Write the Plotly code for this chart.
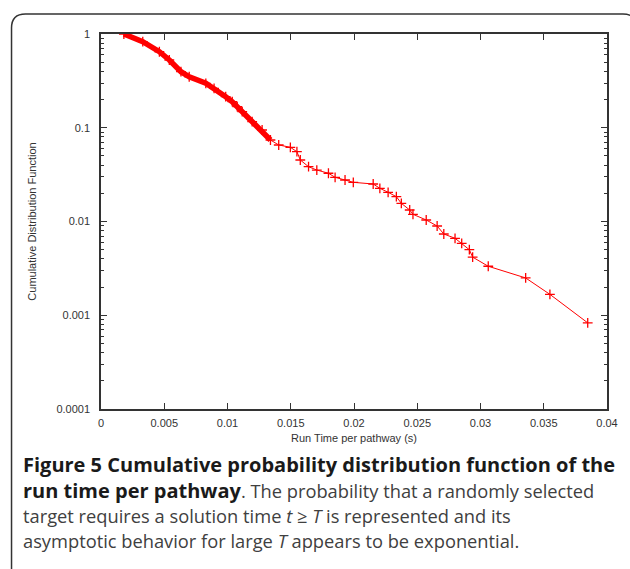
import plotly.graph_objects as go

# ---- data ----
run_time = [0.001808, 0.003302, 0.004615, 0.005401, 0.006321, 0.006973, 0.008286,
            0.008939, 0.009858, 0.010377, 0.010770, 0.011164, 0.011950, 0.012736,
            0.013396, 0.014049, 0.014969, 0.015487, 0.015755, 0.016407, 0.017060,
            0.017980, 0.018506, 0.019292, 0.019945, 0.021517, 0.022044, 0.022697,
            0.023349, 0.023742, 0.024403, 0.024662, 0.025708, 0.026572, 0.027099,
            0.027987, 0.028514, 0.029119, 0.029379, 0.030613, 0.033569, 0.035487,
            0.038475]
cdf = [1.0, 0.828, 0.647, 0.528, 0.396, 0.350, 0.298,
       0.2635, 0.2144, 0.1896, 0.1677, 0.1483, 0.1160, 0.0946,
       0.0740, 0.0655, 0.0619, 0.0555, 0.0453, 0.0384, 0.0354,
       0.0327, 0.0296, 0.0277, 0.02618, 0.02512, 0.02259, 0.02049,
       0.01839, 0.01563, 0.01327, 0.01193, 0.01038, 0.00895, 0.00736,
       0.00662, 0.00583, 0.00500, 0.00417, 0.00333, 0.00250, 0.00167,
       0.00083]

x_ticks = [0, 0.005, 0.01, 0.015, 0.02, 0.025, 0.03, 0.035, 0.04]
x_tick_labels = ["0", "0.005", "0.01", "0.015", "0.02", "0.025", "0.03", "0.035", "0.04"]
y_ticks = [1, 0.1, 0.01, 0.001, 0.0001]
y_tick_labels = ["1", "0.1", "0.01", "0.001", "0.0001"]

x_title = "Run Time per pathway (s)"
y_title = "Cumulative Distribution Function"
B1 = '<span style="font-size:20px;fill:#1a1a1a"><b>'
B2 = '</b></span>'
caption_lines = [
    B1 + "Figure 5 Cumulative probability distribution function of the" + B2,
    B1 + "run time per pathway" + B2 + ". The probability that a randomly selected",
    "target requires a solution time <i>t</i> \u2265 <i>T</i> is represented and its",
    "asymptotic behavior for large <i>T</i> appears to be exponential.",
]

# ---- layout geometry (pixels) ----
W, H = 630, 569
L, R, T, B = 101, 610, 34, 409


def px(xp):
    return (xp - L) / (R - L)


def py(yp):
    return (B - yp) / (B - T)


RED = "#ff0000"
fig = go.Figure()

dense_n = 15
fig.add_trace(go.Scatter(
    x=run_time[:dense_n], y=cdf[:dense_n], mode="lines",
    line=dict(color=RED, width=5.5), hoverinfo="skip", showlegend=False))
fig.add_trace(go.Scatter(
    x=run_time, y=cdf, mode="lines+markers",
    line=dict(color=RED, width=1),
    marker=dict(symbol="cross-thin", size=7, line=dict(color=RED, width=1.3)),
    showlegend=False))

minor_vals = [m * 10 ** e for e in range(-4, 0) for m in range(2, 10)]

axis_common = dict(showline=True, linecolor="#333333", linewidth=1.5, mirror="ticks",
                   ticks="inside", ticklen=6, tickwidth=1, tickcolor="#333333",
                   showgrid=False, zeroline=False,
                   tickfont=dict(family="Liberation Sans, Arial", size=11, color="#333333"),
                   title_font=dict(family="Liberation Sans, Arial", size=11, color="#333333"))

fig.update_xaxes(range=[0, 0.04], tickvals=x_ticks, ticktext=x_tick_labels,
                 title_text=x_title, title_standoff=6, ticklabelstandoff=3, **axis_common)
fig.update_yaxes(type="log", range=[-4, 0], tickvals=y_ticks, ticktext=y_tick_labels,
                 title_text=y_title, title_standoff=18, ticklabelstandoff=7,
                 minor=dict(tickvals=minor_vals, ticks="inside", ticklen=3,
                            tickcolor="#333333", showgrid=False),
                 **axis_common)

# rounded frame around figure
fx0, fy0, fy1, rad = 11, 14, 580, 14
fx1 = 640
path = (f"M {px(fx0)},{py(fy1)} L {px(fx0)},{py(fy0 + rad)} "
        f"Q {px(fx0)},{py(fy0)} {px(fx0 + rad)},{py(fy0)} "
        f"L {px(fx1 - rad)},{py(fy0)} Q {px(fx1)},{py(fy0)} {px(fx1)},{py(fy0 + rad)}")
fig.add_shape(type="path", path=path, xref="paper", yref="paper",
              line=dict(color="#333333", width=1.5))

caption_y = [464, 490, 515, 540]
for text, yc in zip(caption_lines, caption_y):
    fig.add_annotation(text=text, xref="paper", yref="paper", x=px(21), y=py(yc),
                       xanchor="left", yanchor="middle", showarrow=False,
                       font=dict(family="Open Sans", size=18.3, color="#404040"))

fig.update_layout(width=W, height=H, margin=dict(l=L, r=W - R, t=T, b=H - B),
                  plot_bgcolor="white", paper_bgcolor="white")

fig.write_html("out.html", config={"displayModeBar": False},
               post_script="document.body.style.margin='0';"
                           "document.body.style.overflow='hidden';")
